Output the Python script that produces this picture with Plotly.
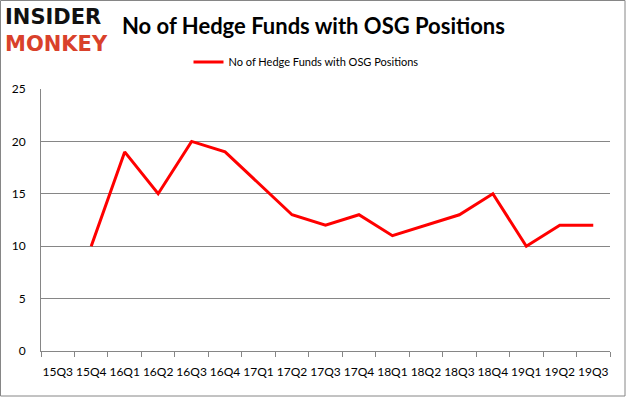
import plotly.graph_objects as go

quarters = ["15Q3", "15Q4", "16Q1", "16Q2", "16Q3", "16Q4", "17Q1", "17Q2", "17Q3",
            "17Q4", "18Q1", "18Q2", "18Q3", "18Q4", "19Q1", "19Q2", "19Q3"]
hedge_funds = [None, 10, 19, 15, 20, 19, 16, 13, 12, 13, 11, 12, 13, 15, 10, 12, 12]
y_ticks = [0, 5, 10, 15, 20, 25]

W, H = 626, 397
L, R, T, B = 41, 16, 89, 46
pw, ph = W - L - R, H - T - B

def px(x):
    return (x - L) / pw

def py(y):
    return 1 - (y - T) / ph

font_main = "Lato, Calibri, Carlito, sans-serif"

fig = go.Figure()
fig.add_trace(go.Scatter(
    x=quarters, y=hedge_funds, mode="lines",
    line=dict(color="#ff0000", width=3),
    name="No of Hedge Funds with OSG Positions",
    connectgaps=False,
))

fig.update_layout(
    width=W, height=H,
    margin=dict(l=L, r=R, t=T, b=B, autoexpand=False),
    paper_bgcolor="white", plot_bgcolor="white",
    font=dict(family=font_main, size=12, color="#000000"),
    showlegend=True,
    legend=dict(orientation="h", x=px(306), xanchor="center", y=py(62), yanchor="middle",
                font=dict(size=11), bgcolor="rgba(0,0,0,0)"),
    xaxis=dict(
        type="category", range=[-0.5, 16.5], showgrid=False,
        showline=True, linecolor="#868686", linewidth=1,
        ticks="outside", tickson="boundaries", ticklen=5, tickcolor="#868686",
        tickfont=dict(size=12), tickangle=0, fixedrange=True, automargin=False,
        ticklabelstandoff=10,
    ),
    yaxis=dict(
        range=[0, 25], tickvals=y_ticks, showgrid=True, gridcolor="#868686", gridwidth=1,
        showline=True, linecolor="#868686", linewidth=1, zeroline=False,
        ticks="", tickfont=dict(size=12), ticklabelstandoff=12, automargin=False,
        fixedrange=True,
    ),
    annotations=[
        dict(text="<b>No of Hedge Funds with OSG Positions</b>", x=px(313), y=py(25),
             xref="paper", yref="paper", xanchor="center", yanchor="middle",
             showarrow=False, font=dict(size=22, color="#000000", family=font_main)),
        dict(text="<b>INSIDER</b><br><span style='color:#d9412b'><b>MONKEY</b></span>",
             x=px(3), y=py(31), xref="paper", yref="paper", align="left",
             xanchor="left", yanchor="middle", showarrow=False,
             font=dict(size=21, color="#111111", family="DejaVu Sans")),
    ],
    shapes=[
        dict(type="rect", xref="paper", yref="paper",
             x0=px(0.5), x1=px(W - 1), y0=py(0.5), y1=py(H - 1),
             line=dict(color="#868686", width=1), fillcolor="rgba(0,0,0,0)", layer="below"),
    ],
)

fig.write_html("out.html", post_script="document.body.style.margin='0';",
               config={"displayModeBar": False})
